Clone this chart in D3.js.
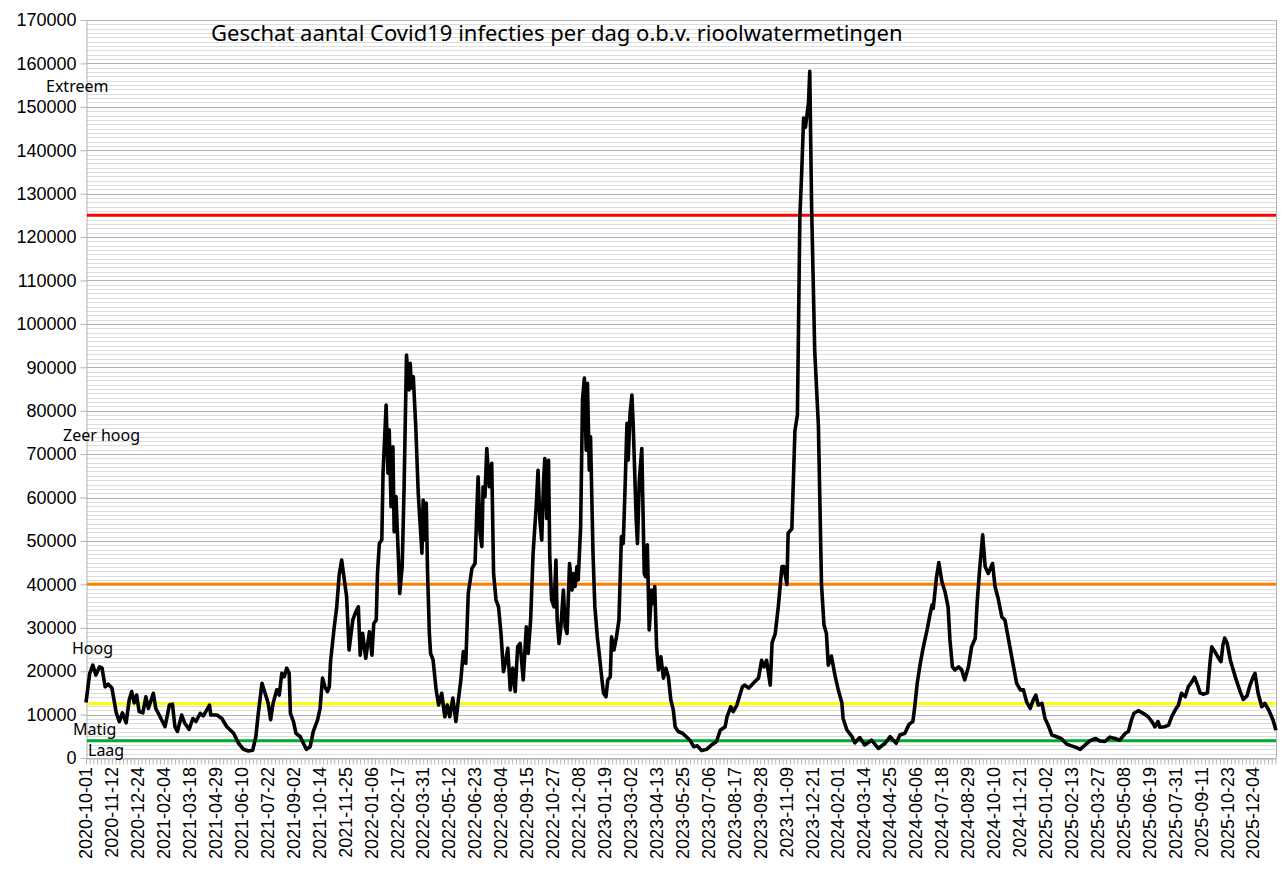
<!DOCTYPE html>
<html>
<head>
<meta charset="utf-8">
<script src="https://cdn.jsdelivr.net/npm/d3@7"></script>
<style>
  body { margin: 0; background: #fff; }
  svg { display: block; }
</style>
</head>
<body>
<div class="chart"></div>
<script>
// series start and day offsets
var startDate = "2020-10-01";
var dayOffsets = [
  0, 6, 11, 16, 22, 26, 31, 36, 42, 49, 54, 59, 65, 70, 74, 78, 82, 86, 92, 97,
  101, 109, 113, 120, 128, 135, 140, 144, 148, 155, 160, 167, 173, 178, 185, 190, 194, 200, 202, 212,
  220, 228, 239, 247, 255, 263, 270, 275, 279, 285, 290, 295, 299, 303, 309, 313, 317, 321, 325, 329,
  331, 336, 340, 347, 352, 357, 363, 368, 375, 379, 383, 387, 391, 394, 396, 402, 406, 410, 414, 418,
  422, 426, 432, 437, 441, 444, 448, 453, 459, 463, 466, 470, 472, 475, 479, 481, 486, 489, 491, 494,
  497, 499, 502, 506, 508, 512, 515, 519, 523, 525, 527, 530, 534, 538, 544, 546, 549, 551, 553, 556,
  558, 562, 567, 571, 576, 581, 585, 589, 594, 599, 603, 607, 611, 615, 619, 625, 630, 633, 635, 638,
  641, 643, 646, 649, 653, 657, 660, 664, 668, 672, 676, 680, 683, 687, 691, 695, 699, 703, 708, 713,
  716, 720, 724, 729, 732, 735, 738, 741, 743, 746, 749, 751, 754, 758, 761, 763, 766, 769, 773, 776,
  779, 783, 787, 789, 792, 795, 797, 801, 804, 807, 810, 812, 815, 817, 821, 824, 828, 831, 835, 838,
  842, 845, 849, 851, 855, 859, 863, 867, 870, 873, 876, 878, 881, 884, 886, 891, 893, 896, 900, 904,
  906, 909, 912, 916, 919, 921, 924, 927, 931, 935, 939, 943, 947, 951, 954, 959, 966, 972, 978, 984,
  990, 997, 1005, 1013, 1021, 1027, 1035, 1038, 1044, 1048, 1054, 1058, 1063, 1067, 1073, 1078, 1083, 1089, 1094, 1098,
  1102, 1108, 1111, 1116, 1121, 1127, 1130, 1135, 1137, 1143, 1148, 1152, 1156, 1159, 1162, 1165, 1170, 1172, 1175, 1180,
  1186, 1191, 1195, 1199, 1202, 1207, 1213, 1218, 1224, 1226, 1232, 1240, 1245, 1253, 1261, 1272, 1283, 1294, 1302, 1312,
  1318, 1326, 1333, 1339, 1342, 1346, 1351, 1355, 1359, 1362, 1366, 1370, 1372, 1377, 1381, 1386, 1391, 1396, 1399, 1403,
  1407, 1413, 1418, 1423, 1429, 1434, 1440, 1443, 1447, 1452, 1456, 1461, 1468, 1472, 1477, 1483, 1488, 1494, 1501, 1507,
  1513, 1518, 1523, 1529, 1534, 1538, 1542, 1548, 1553, 1558, 1564, 1572, 1580, 1588, 1596, 1604, 1610, 1618, 1626, 1635,
  1642, 1650, 1658, 1666, 1674, 1683, 1688, 1693, 1697, 1704, 1712, 1720, 1726, 1731, 1736, 1739, 1747, 1753, 1758, 1764,
  1769, 1774, 1780, 1785, 1791, 1795, 1800, 1804, 1809, 1816, 1820, 1823, 1828, 1834, 1838, 1841, 1844, 1848, 1853, 1861,
  1869, 1874, 1880, 1885, 1890, 1893, 1898, 1904, 1909, 1915, 1922, 1927
];
var infections = [
  12800, 19500, 21400, 19100, 21000, 20700, 16400, 17000, 16100, 10400, 8400, 10400, 8100, 13400, 15300, 12700, 14500, 10700, 10400, 14100,
  11400, 14900, 11400, 9500, 7200, 12200, 12400, 7200, 6100, 9900, 8000, 6600, 9100, 8400, 10300, 9700, 10700, 12200, 9900, 9900,
  9100, 7200, 5700, 3400, 2000, 1600, 1800, 4900, 10300, 17200, 14900, 12600, 8800, 12600, 15700, 14500, 19500, 18700, 20700, 19500,
  10300, 8400, 5700, 4900, 3400, 2000, 2600, 6100, 8800, 11400, 18400, 16400, 15300, 16400, 22200, 30200, 34800, 42200, 45600, 41400,
  37200, 24900, 31800, 33700, 34800, 23700, 28700, 23000, 29100, 23700, 31000, 31800, 42500, 49400, 50200, 65600, 81300, 65600, 75600, 57900,
  71700, 52100, 60200, 45600, 37900, 44100, 61700, 92800, 84800, 90900, 85200, 87800, 76300, 61000, 47200, 59400, 50200, 58700, 43300, 28700,
  24100, 22600, 15700, 12200, 14900, 9500, 12200, 9500, 13800, 8400, 13400, 18000, 24500, 21800, 37900, 43700, 44800, 57500, 64800, 51800,
  48700, 62500, 60200, 71300, 62500, 67900, 42500, 36400, 34800, 28700, 19900, 22600, 25300, 15700, 20700, 15300, 25600, 26400, 18000, 30200,
  24100, 31800, 47200, 57900, 66300, 54800, 50200, 64000, 69000, 55200, 68600, 46400, 36400, 34800, 45600, 31800, 26400, 30200, 38700, 30200,
  28700, 44800, 38700, 42500, 39500, 44100, 41000, 53300, 82500, 87500, 70900, 86300, 66300, 74000, 47200, 34800, 27900, 24100, 18700, 14900,
  14100, 18000, 18700, 27900, 24900, 27900, 31800, 51000, 49400, 62500, 77100, 68600, 79400, 83600, 77100, 54800, 49400, 64000, 71300, 42500,
  41800, 49100, 29500, 38700, 35600, 39500, 25600, 20300, 23300, 18400, 20700, 18700, 13400, 11100, 7200, 6100, 5700, 4900, 4100, 2600,
  2800, 1700, 2000, 3000, 3800, 6400, 7200, 9500, 11800, 10700, 12200, 14100, 16400, 16800, 16100, 16800, 17600, 18400, 22500, 21000,
  22500, 16800, 26600, 28600, 34800, 44100, 44100, 40000, 51800, 52800, 75400, 79000, 124800, 135100, 147400, 145300, 151000, 158200, 126900, 93900,
  76500, 40000, 30700, 28600, 21400, 23500, 18900, 15800, 12700, 9100, 6500, 5000, 3500, 4700, 3000, 4100, 2200, 3400, 4900, 3400,
  5300, 5700, 7800, 8400, 11800, 17200, 21800, 24900, 27600, 29500, 32500, 35200, 34500, 41400, 45000, 40600, 38300, 34800, 27200, 21000,
  20300, 21000, 20300, 18000, 21000, 25600, 27600, 35600, 43300, 51400, 44100, 42500, 44800, 39500, 36800, 32500, 31800, 27200, 21800, 17200,
  15700, 15700, 13000, 11400, 13400, 14500, 12200, 12600, 9100, 7600, 5300, 4900, 4400, 3200, 2800, 2400, 2000, 3000, 4000, 4500,
  3900, 3800, 4800, 4500, 4100, 5700, 6100, 8800, 10300, 10900, 10300, 9500, 8400, 7200, 8400, 7100, 7200, 7600, 9500, 11100,
  12200, 14900, 14100, 16400, 17600, 18600, 16800, 15000, 14700, 15000, 21800, 25600, 24500, 23000, 22200, 26000, 27600, 26400, 22600, 18700,
  15300, 13500, 14300, 16800, 18700, 19500, 14900, 11800, 12600, 11100, 8800, 6400
];

var xTickLabels = [
  "2020-10-01", "2020-11-12", "2020-12-24", "2021-02-04", "2021-03-18", "2021-04-29", "2021-06-10", "2021-07-22",
  "2021-09-02", "2021-10-14", "2021-11-25", "2022-01-06", "2022-02-17", "2022-03-31", "2022-05-12", "2022-06-23",
  "2022-08-04", "2022-09-15", "2022-10-27", "2022-12-08", "2023-01-19", "2023-03-02", "2023-04-13", "2023-05-25",
  "2023-07-06", "2023-08-17", "2023-09-28", "2023-11-09", "2023-12-21", "2024-02-01", "2024-03-14", "2024-04-25",
  "2024-06-06", "2024-07-18", "2024-08-29", "2024-10-10", "2024-11-21", "2025-01-02", "2025-02-13", "2025-03-27",
  "2025-05-08", "2025-06-19", "2025-07-31", "2025-09-11", "2025-10-23", "2025-12-04"
];

// risk levels: threshold lines and labels
var thresholdValues = [125000, 40000, 12500, 4000];
var thresholdColors = ["#ff0000", "#ff8000", "#ffff00", "#00a933"];
var levelNames = ["Extreem", "Zeer hoog", "Hoog", "Matig", "Laag"];
var levelLabelValues = [154800, 74400, 25300, 6700, 1850];

var title = "Geschat aantal Covid19 infecties per dag o.b.v. rioolwatermetingen";

var chartWidth = 1287, chartHeight = 869;
var plotLeft = 86, plotRight = 1276, plotTop = 20, plotBottom = 758;

var parse = d3.timeParse("%Y-%m-%d");
var t0 = parse(startDate);
var data = dayOffsets.map(function (d, i) {
  return { date: d3.timeDay.offset(t0, d), value: infections[i] };
});

var x = d3.scaleTime()
  .domain([t0, d3.timeDay.offset(t0, dayOffsets[dayOffsets.length - 1])])
  .range([plotLeft, plotRight]);

var y = d3.scaleLinear()
  .domain([0, 170000])
  .range([plotBottom, plotTop]);

var svg = d3.select('.chart')
  .append('svg')
  .attr('width', chartWidth)
  .attr('height', chartHeight);

// minor grid every 1000
svg.append('g')
  .selectAll('line')
  .data(d3.range(0, 170001, 1000).filter(function (v) { return v % 10000 !== 0; }))
  .enter()
  .append('line')
  .attr('x1', plotLeft).attr('x2', plotRight)
  .attr('y1', function (d) { return Math.round(y(d)) + 0.5; })
  .attr('y2', function (d) { return Math.round(y(d)) + 0.5; })
  .attr('stroke', '#dddddd')
  .attr('stroke-width', 1);

// major grid every 10000
svg.append('g')
  .selectAll('line')
  .data(d3.range(0, 170001, 10000))
  .enter()
  .append('line')
  .attr('x1', plotLeft).attr('x2', plotRight)
  .attr('y1', function (d) { return Math.round(y(d)) + 0.5; })
  .attr('y2', function (d) { return Math.round(y(d)) + 0.5; })
  .attr('stroke', '#b3b3b3')
  .attr('stroke-width', 1);

// right border
svg.append('line')
  .attr('x1', plotRight + 0.5).attr('x2', plotRight + 0.5)
  .attr('y1', plotTop).attr('y2', plotBottom)
  .attr('stroke', '#b3b3b3');

// y axis
var yAxis = d3.axisLeft(y)
  .tickValues(d3.range(0, 170001, 10000))
  .tickFormat(d3.format('d'))
  .tickSizeInner(6)
  .tickSizeOuter(0)
  .tickPadding(4);

var gy = svg.append('g')
  .attr('transform', 'translate(' + (plotLeft + 0.5) + ',0)')
  .call(yAxis);
gy.select('.domain').attr('stroke', '#b3b3b3');
gy.selectAll('.tick line').attr('stroke', '#b3b3b3');
gy.selectAll('.tick text')
  .attr('font-family', '"Liberation Sans", Arial, sans-serif')
  .attr('font-size', 18)
  .attr('fill', '#000');

// x axis: minor ticks every 6 days, labels every 42 days
var xAxisMinor = d3.axisBottom(x)
  .tickValues(d3.range(0, dayOffsets[dayOffsets.length - 1] + 1, 6).map(function (d) {
    return d3.timeDay.offset(t0, d);
  }))
  .tickSize(6)
  .tickSizeOuter(0)
  .tickFormat('');

var gx = svg.append('g')
  .attr('transform', 'translate(0,' + (plotBottom + 0.5) + ')')
  .call(xAxisMinor);
gx.select('.domain').attr('stroke', '#b3b3b3');
gx.selectAll('.tick line').attr('stroke', '#b3b3b3');

svg.append('g')
  .selectAll('text')
  .data(xTickLabels)
  .enter()
  .append('text')
  .attr('transform', function (d) {
    return 'translate(' + x(parse(d)) + ',' + (plotBottom + 9) + ') rotate(-90)';
  })
  .attr('text-anchor', 'end')
  .attr('dy', '0.35em')
  .attr('font-family', '"Liberation Sans", Arial, sans-serif')
  .attr('font-size', 18)
  .attr('fill', '#000')
  .text(function (d) { return d; });

// threshold lines
svg.append('g')
  .selectAll('line')
  .data(thresholdValues)
  .enter()
  .append('line')
  .attr('x1', plotLeft + 1).attr('x2', plotRight)
  .attr('y1', function (d) { return y(d); })
  .attr('y2', function (d) { return y(d); })
  .attr('stroke', function (d, i) { return thresholdColors[i]; })
  .attr('stroke-width', 3);

// the series
var line = d3.line()
  .x(function (d) { return x(d.date); })
  .y(function (d) { return y(d.value); });

svg.append('path')
  .datum(data)
  .attr('d', line)
  .attr('fill', 'none')
  .attr('stroke', '#000')
  .attr('stroke-width', 3.6)
  .attr('stroke-linejoin', 'round');

// level labels
var labelX = [46, 63, 72, 73, 88];
svg.append('g')
  .selectAll('text')
  .data(levelNames)
  .enter()
  .append('text')
  .attr('x', function (d, i) { return labelX[i]; })
  .attr('y', function (d, i) { return y(levelLabelValues[i]); })
  .attr('dy', '0.35em')
  .attr('font-family', '"Noto Sans", sans-serif')
  .attr('font-size', 16)
  .attr('fill', '#000')
  .text(function (d) { return d; });

// title
svg.append('text')
  .attr('x', 211)
  .attr('y', 41)
  .attr('font-family', '"Noto Sans", sans-serif')
  .attr('font-size', 22)
  .attr('fill', '#000')
  .text(title);
</script>
</body>
</html>
